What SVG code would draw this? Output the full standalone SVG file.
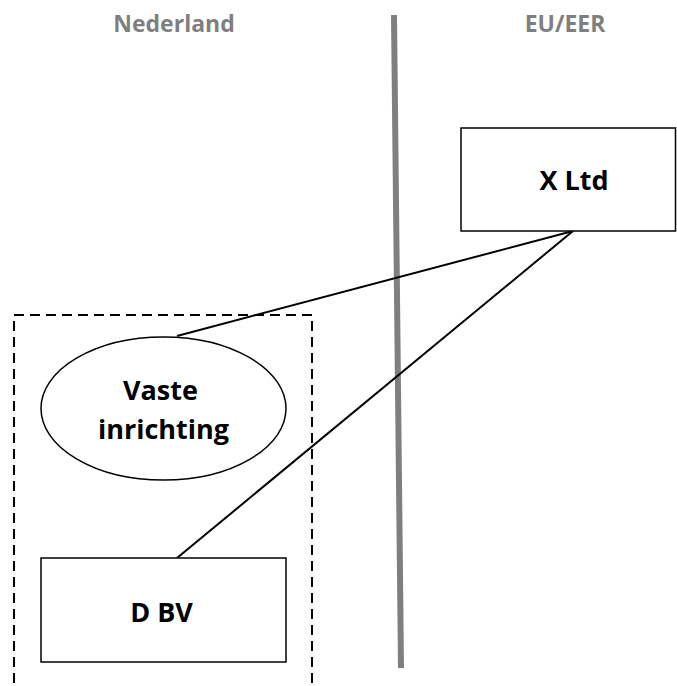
<svg xmlns="http://www.w3.org/2000/svg" width="677" height="686" viewBox="0 0 677 686">
  <style>
    .box { fill: #fff; stroke: #000; stroke-width: 1.5; }
    .lbl { font-family: "Open Sans", "Liberation Sans", sans-serif; font-weight: bold; font-size: 27px; fill: #000; text-anchor: middle; }
    .region { font-family: "Open Sans", "Liberation Sans", sans-serif; font-weight: bold; font-size: 23px; fill: #7f7f7f; text-anchor: middle; }
    .link { stroke: #000; stroke-width: 2; fill: none; }
  </style>
  <rect width="677" height="686" fill="#fff"/>

  <!-- region headings and border -->
  <text class="region" x="174" y="32">Nederland</text>
  <text class="region" x="565" y="32">EU/EER</text>
  <line x1="394" y1="15" x2="401" y2="668" stroke="#7f7f7f" stroke-width="6"/>

  <!-- dashed boundary around the Dutch entities -->
  <rect id="nl-group" x="14" y="315" width="298" height="390" fill="none" stroke="#000" stroke-width="2" stroke-dasharray="10,6"/>

  <g id="connectors">
    <line class="link" x1="573" y1="231" x2="177" y2="336"/>
    <line class="link" x1="573" y1="231" x2="177" y2="558"/>
  </g>

  <g id="x-ltd">
    <rect class="box" x="461" y="128" width="214.5" height="103"/>
    <text class="lbl" x="574" y="190">X Ltd</text>
  </g>

  <g id="vaste-inrichting">
    <ellipse class="box" cx="163.5" cy="408.5" rx="122.5" ry="71.5"/>
    <text class="lbl" x="160.5" y="400">Vaste</text>
    <text class="lbl" x="163.5" y="439">inrichting</text>
  </g>

  <g id="d-bv">
    <rect class="box" x="41" y="558" width="245" height="104"/>
    <text class="lbl" x="161.5" y="622">D BV</text>
  </g>
</svg>
